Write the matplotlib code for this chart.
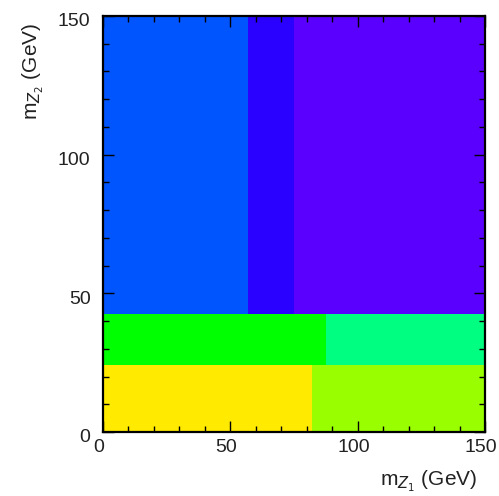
import numpy as np
import matplotlib.pyplot as plt
import matplotlib.transforms as mtransforms
from matplotlib.colors import ListedColormap
from matplotlib.ticker import MultipleLocator

plt.rcParams['font.family'] = ['Liberation Sans', 'DejaVu Sans']

# bin edges of the mass regions (GeV)
x_edges = [0, 57, 75, 82, 87.5, 150]
y_edges = [0, 24, 42.5, 150]

# region index per cell (rows: y bins from bottom, cols: x bins)
region = [
    [0, 0, 0, 1, 1],
    [2, 2, 2, 2, 3],
    [4, 5, 6, 6, 6],
]
region_colors = ['#ffea00', '#99ff00', '#00ff00', '#00ff80',
                 '#0055ff', '#2a00ff', '#5a00ff']

x_ticks = [0, 50, 100, 150]
y_ticks = [0, 50, 100, 150]

W, H = 499, 496
fig = plt.figure(figsize=(W / 100, H / 100), dpi=100)
ax = fig.add_axes([103 / W, 1 - 432 / H, 382 / W, 416 / H])

cmap = ListedColormap(region_colors)
ax.pcolormesh(x_edges, y_edges, np.array(region), cmap=cmap,
              vmin=-0.5, vmax=len(region_colors) - 0.5, shading='flat')

ax.set_xlim(0, 150)
ax.set_ylim(0, 150)
ax.set_xticks(x_ticks)
ax.set_yticks(y_ticks)
ax.xaxis.set_minor_locator(MultipleLocator(10))
ax.yaxis.set_minor_locator(MultipleLocator(10))
ax.tick_params(which='both', direction='in', top=True, right=True,
               width=1.0, colors='black', labelcolor='#222222', labelsize=14)
ax.tick_params(which='major', length=8)
ax.tick_params(which='minor', length=4.5)
ax.tick_params(axis='x', pad=5)
ax.tick_params(axis='y', pad=9)
for s in ax.spines.values():
    s.set_linewidth(1.6)

# ROOT-style label placement: slightly left / down of the tick
shift_x = mtransforms.ScaledTranslation(-4 / 100, 0, fig.dpi_scale_trans)
shift_y = mtransforms.ScaledTranslation(0, -4 / 100, fig.dpi_scale_trans)
for lab in ax.get_xticklabels():
    lab.set_transform(lab.get_transform() + shift_x)
for lab in ax.get_yticklabels():
    lab.set_transform(lab.get_transform() + shift_y)

fig.text(477 / W, 1 - 486 / H, r'm$_{Z_{1}}$ (GeV)', fontsize=15,
         color='#222222', ha='right', va='baseline')
fig.text(33 / W, 1 - 23 / H, r'm$_{Z_{2}}$ (GeV)', fontsize=15,
         color='#222222', ha='center', va='top', rotation=90)

fig.savefig('out.png', dpi=100)
